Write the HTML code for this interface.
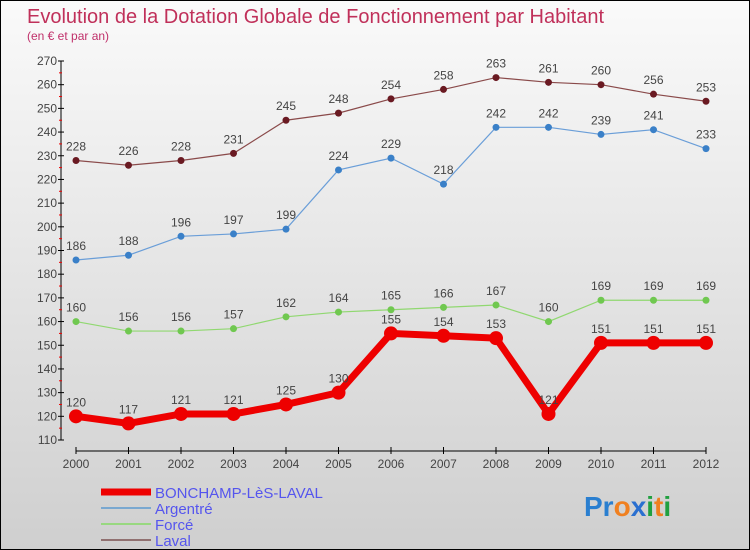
<!DOCTYPE html>
<html><head><meta charset="utf-8"><style>
html,body{margin:0;padding:0}
body{width:750px;height:550px;overflow:hidden;font-family:"Liberation Sans",sans-serif}
#wrap{position:relative;width:748px;height:548px;border:1px solid #000;background:linear-gradient(#fafafa,#cfcfcf)}
</style></head><body>
<div id="wrap">
<svg id="chart" width="748" height="548" style="position:absolute;left:0;top:0">
<text x="26" y="22" font-size="20" fill="#c0305a">Evolution de la Dotation Globale de Fonctionnement par Habitant</text>
<text x="26" y="39" font-size="12" fill="#c0306a">(en € et par an)</text>
<g id="axes"></g><g id="series"></g><g id="legend"></g>
<text x="583" y="515" font-size="28" font-weight="bold"><tspan fill="#2a7fd0">Pr</tspan><tspan fill="#f08020">o</tspan><tspan fill="#2a6fd0">x</tspan><tspan fill="#20a040">i</tspan><tspan fill="#f08020">t</tspan><tspan fill="#20a040">i</tspan></text>
</svg>
</div>
<script>
const years=[2000,2001,2002,2003,2004,2005,2006,2007,2008,2009,2010,2011,2012];
const bonchamp=[120,117,121,121,125,130,155,154,153,121,151,151,151];
const argentre=[186,188,196,197,199,224,229,218,242,242,239,241,233];
const force=[160,156,156,157,162,164,165,166,167,160,169,169,169];
const laval=[228,226,228,231,245,248,254,258,263,261,260,256,253];
const yTicks=[110,120,130,140,150,160,170,180,190,200,210,220,230,240,250,260,270];
const NS='http://www.w3.org/2000/svg';
const xS=i=>75+i*52.5;
const yS=v=>439-(v-110)*(379/160);
function mk(t,a,p){const e=document.createElementNS(NS,t);for(const k in a)e.setAttribute(k,a[k]);p.appendChild(e);return e;}
const ax=document.getElementById('axes');
let yl=mk('line',{x1:60,y1:yS(270),x2:60,y2:yS(110),stroke:'#000'},ax);


yTicks.forEach(v=>{
  mk('line',{x1:57,y1:yS(v),x2:63,y2:yS(v),stroke:'#000'},ax);
  mk('line',{x1:58,y1:yS(v+5),x2:61,y2:yS(v+5),stroke:v<270?'#e00':'none'},ax);
  const t=mk('text',{x:56,y:yS(v)+4,'font-size':12,fill:'#444','text-anchor':'end'},ax);
  t.textContent=v;
  
  
});
let xl=mk('line',{x1:xS(0),y1:450,x2:xS(12),y2:450,stroke:'#000'},ax);


years.forEach((y,i)=>{
  mk('line',{x1:xS(i),y1:446,x2:xS(i),y2:453,stroke:'#000'},ax);
  const t=mk('text',{x:xS(i),y:467,'font-size':12,fill:'#444','text-anchor':'middle'},ax);
  t.textContent=y;
  
  
});
const sg=document.getElementById('series');
function series(vals,color,dot,w,r,name){
  const g=mk('g',{},sg);
  
  
  const pl=mk('polyline',{points:vals.map((v,i)=>xS(i)+','+yS(v)).join(' '),fill:'none',stroke:color,'stroke-width':w},g);
  
  
  vals.forEach((v,i)=>{
    const c=mk('circle',{cx:xS(i),cy:yS(v),r:r,fill:dot},g);
    
    
    const t=mk('text',{x:xS(i),y:yS(v)-10,'font-size':12,fill:'#444','text-anchor':'middle'},g);
    t.textContent=v;
    
    
  });
}
series(laval,'#8a4a4a','#6a1a22',1.2,3.5,'laval');
series(argentre,'#6a9ed8','#3a80c8',1.2,3.5,'argentre');
series(force,'#90d870','#70c850',1.2,3.5,'force');
series(bonchamp,'#ee0000','#ee0000',7,7,'bonchamp');
const lg=document.getElementById('legend');
const leg=[['BONCHAMP-LèS-LAVAL','#ee0000',7],['Argentré','#7aa8d0',2],['Forcé','#98d880',2],['Laval','#907070',2]];
leg.forEach((l,i)=>{
  const y=491+i*16;
  const ln=mk('line',{x1:100,y1:y,x2:150,y2:y,stroke:l[1],'stroke-width':l[2]},lg);
  
  
  const t=mk('text',{x:154,y:y+6,'font-size':15,fill:'#5555ee'},lg);
  t.textContent=l[0];
  
  
});
</script>
</body></html>
